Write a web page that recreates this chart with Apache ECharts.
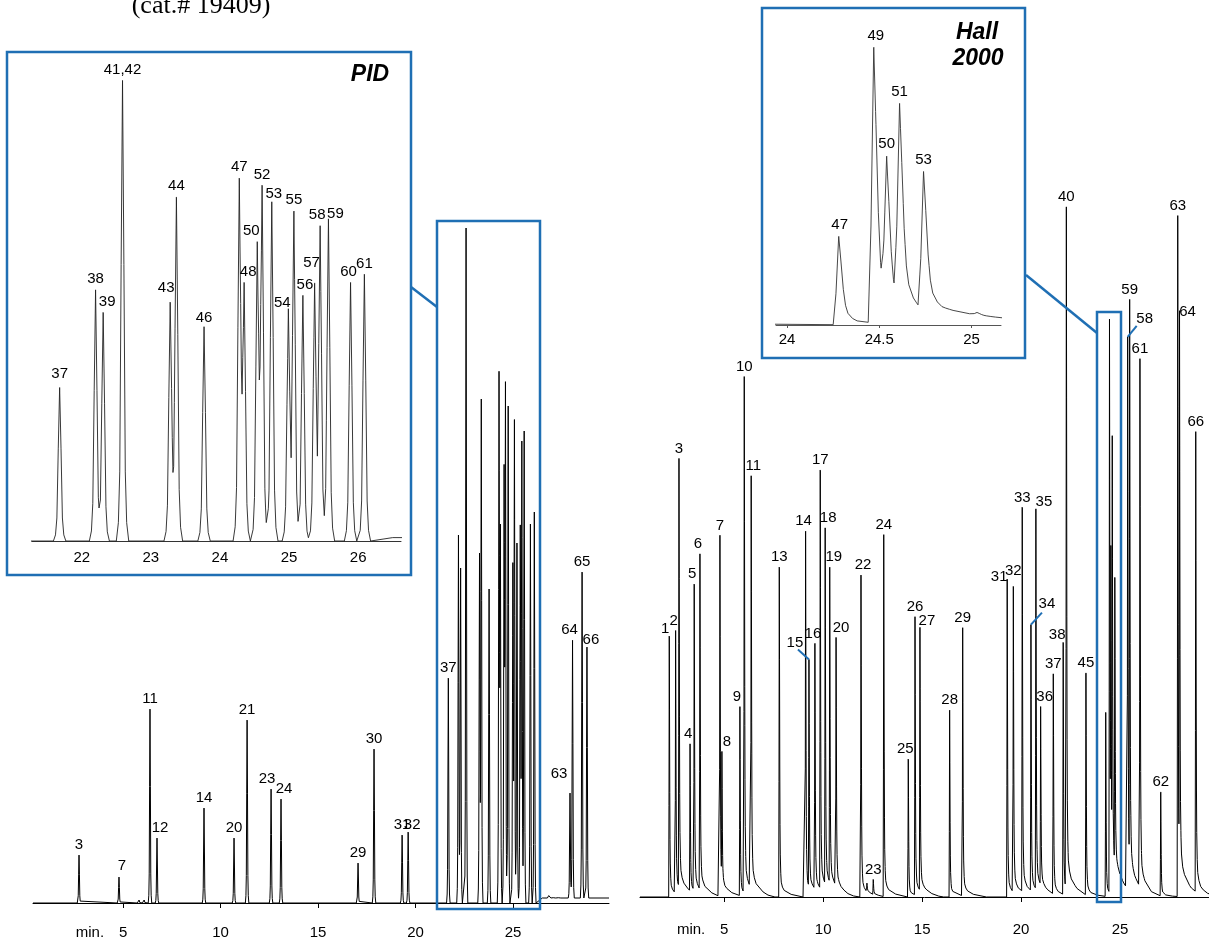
<!DOCTYPE html>
<html>
<head>
<meta charset="utf-8">
<script src="https://cdn.jsdelivr.net/npm/echarts@6/dist/echarts.min.js"></script>
<style>
  html, body { margin: 0; padding: 0; background: #fff; }
  #chart { width: 1209px; height: 944px; }
</style>
</head>
<body>
<div id="chart"></div>
<script>
// PID detector: peak number, retention time (min), peak height
const pidNames = ['3','7','','','11','12','14','20','21','23','24','29','30','31','32','37','38','39','41,42','43','44','46','47','48','50','52','53','54','55','56','57','58','59','60','61','','','','63','64','65','66'];
const pidTimes = [2.74,4.79,5.82,6.08,6.38,6.74,9.15,10.69,11.36,12.59,13.10,17.05,17.87,19.31,19.62,21.68,22.20,22.31,22.59,23.28,23.37,23.77,24.28,24.35,24.54,24.61,24.75,24.99,25.07,25.20,25.37,25.45,25.57,25.89,26.09,26.85,27.10,27.36,27.92,28.05,28.54,28.79];
const pidHeights = [48,26,3,3,194,65,95,65,183,114,104,40,154,68,71,225,368,335,675,350,504,314,522,365,425,510,497,334,479,360,372,457,472,379,391,4,2,2,105,258,326,251];
const pidBaseTimes = [0.38, 26.2, 26.5, 29.92];
const pidBaseLevels = [0, 0, 5, 5];

// Hall 2000 detector
const hallNames = ['1','2','3','4','5','6','7','8','9','10','11','13','14','15','16','17','18','19','20','22','','23','24','25','26','27','28','29','31','32','33','34','35','36','37','38','40','45','47','49','50','51','53','','58','59','61','62','63','64','66'];
const hallTimes = [2.22,2.54,2.71,3.27,3.48,3.77,4.78,4.88,5.79,6.01,6.36,7.78,9.11,9.28,9.58,9.85,10.10,10.33,10.65,11.91,12.21,12.53,13.06,14.30,14.64,14.89,16.39,17.05,19.30,19.61,20.06,20.50,20.75,20.99,21.63,22.13,22.29,23.28,24.28,24.47,24.54,24.61,24.74,25.03,25.39,25.49,26.01,27.06,27.92,28.01,28.83];
const hallHeights = [261,262,428,147,306,335,361,129,189,516,411,330,366,227,245,418,356,315,248,322,8,15,362,138,278,263,187,268,318,305,384,266,380,178,220,252,681,222,184,573,300,413,283,5,552,567,528,104,681,548,460];
const hallBaseTimes = [0.74, 29.5];
const hallBaseLevels = [0, 0];

// axis ticks
const mainTicks = [5, 10, 15, 20, 25];
const pidZoomTicks = [22, 23, 24, 25, 26];
const hallZoomTicks = [24, 24.5, 25];

// which peak numbers are written on which panel
const pidMainLabels = ['3','7','11','12','14','20','21','23','24','29','30','31','32','37','63','64','65','66'];
const pidZoomLabels = ['37','38','39','41,42','43','44','46','47','48','50','52','53','54','55','56','57','58','59','60','61'];
const hallZoomLabels = ['47','49','50','51','53'];
const hallMainLabels = hallNames.filter(n => n && !hallZoomLabels.includes(n));

// label nudges [dx, dy] in px
const pidMainOffsets = {'7':[3,-1],'12':[3,0],'23':[-4,0],'24':[3,0],'32':[4,3],'63':[-11,-9],'64':[-3,0],'66':[4,3]};
const pidZoomOffsets = {'37':[0,-3],'39':[4,0],'43':[-4,-3],'46':[0,2],'48':[4,0],'50':[-6,0],'53':[2,3],'54':[-6,5],'56':[2,0],'57':[-3,-9],'58':[-3,0],'59':[7,6],'60':[-2,0]};
const hallMainOffsets = {'1':[-4,3],'2':[-2,0],'4':[-2,0],'5':[-2,0],'6':[-2,0],'8':[5,0],'9':[-3,0],'11':[2,0],'14':[-2,0],'15':[-14,-7],'16':[-2,0],'18':[3,0],'19':[4,0],'20':[5,0],'22':[2,0],'25':[-3,0],'27':[7,3],'31':[-8,8],'32':[0,-6],'34':[16,-11],'35':[8,3],'36':[4,0],'38':[-6,2],'58':[17,-8],'64':[8,11]};
const hallZoomOffsets = {'47':[1,0],'49':[2,0]};
// blue leader lines on the Hall trace
const hallLeaders = {'15':[-11,-10],'34':[11,-12],'58':[9,-11]};

// peak outlines (time offset from apex, fraction of height)
const pidShape = [[-0.09,0],[-0.06,0.04],[-0.04,0.15],[-0.02,0.6],[0,1],[0.02,0.6],[0.04,0.15],[0.06,0.04],[0.09,0]];
const hallShape = [[-0.03,0],[-0.015,0.35],[0,1],[0.012,0.72],[0.025,0.4],[0.037,0.22],[0.05,0.13],[0.075,0.072],[0.1,0.045],[0.16,0.03],[0.25,0.02],[0.6,0.008],[1.2,0]];

const BLUE = '#1f6fb4';
const FONT = 'Liberation Sans, Arial, sans-serif';

function lerp(pts, x) {
  if (x <= pts[0][0]) return pts[0][1];
  if (x >= pts[pts.length - 1][0]) return pts[pts.length - 1][1];
  for (let i = 1; i < pts.length; i++) {
    if (x <= pts[i][0]) {
      const a = pts[i - 1], b = pts[i];
      return a[1] + (b[1] - a[1]) * (x - a[0]) / (b[0] - a[0]);
    }
  }
}

function makeTrace(times, heights, shape, baseT, baseL) {
  const base = baseT.map((t, i) => [t, baseL[i]]);
  const at = x => {
    let y = lerp(base, x);
    times.forEach((t, i) => {
      const dt = x - t;
      if (dt > shape[0][0] && dt < shape[shape.length - 1][0]) y += heights[i] * lerp(shape, dt);
    });
    return y;
  };
  const xs = baseT.slice();
  times.forEach(t => shape.forEach(s => xs.push(Math.round((t + s[0]) * 10000) / 10000)));
  const pts = [...new Set(xs)]
    .filter(x => x >= baseT[0] && x <= baseT[baseT.length - 1])
    .sort((a, b) => a - b)
    .map(x => [x, at(x)]);
  return { at, pts };
}

const pid = makeTrace(pidTimes, pidHeights, pidShape, pidBaseTimes, pidBaseLevels);
const hall = makeTrace(hallTimes, hallHeights, hallShape, hallBaseTimes, hallBaseLevels);

function labelItems(names, times, trace, keep, offsets) {
  const out = [];
  names.forEach((n, i) => {
    if (!keep.includes(n)) return;
    const item = { name: n, value: [times[i], trace.at(times[i])] };
    if (offsets[n]) item.label = { offset: offsets[n] };
    out.push(item);
  });
  return out;
}

function labelSeries(idx, data, dist) {
  return {
    type: 'scatter', xAxisIndex: idx, yAxisIndex: idx, data: data,
    symbol: 'circle', symbolSize: 0.5, itemStyle: { color: '#fff', opacity: 1 },
    silent: true, clip: false, z: 5,
    label: { show: true, position: 'top', distance: dist, formatter: p => p.name,
             fontSize: 15, color: '#000', opacity: 1, textBorderWidth: 0, fontFamily: FONT }
  };
}

function xAx(idx, min, max, ticks, margin, tickLen, lineColor) {
  return {
    type: 'value', gridIndex: idx, min: min, max: max,
    axisLine: { show: true, lineStyle: { color: lineColor, width: 1 } },
    axisTick: { show: tickLen > 0, customValues: ticks, length: tickLen, lineStyle: { color: lineColor } },
    axisLabel: { customValues: ticks, margin: margin, fontSize: 15, color: '#000', fontFamily: FONT },
    splitLine: { show: false }
  };
}

function yAx(idx, min, max) {
  return { type: 'value', gridIndex: idx, min: min, max: max, show: false, splitLine: { show: false } };
}

const chart = echarts.init(document.getElementById('chart'));

chart.setOption({
  animation: false,
  backgroundColor: '#fff',
  grid: [
    { left: 33, top: 190, width: 576, height: 723, outerBoundsMode: 'none' },   // PID full run
    { left: 32, top: 61, width: 369, height: 485, outerBoundsMode: 'none' },    // PID zoom
    { left: 640, top: 190, width: 569, height: 721, outerBoundsMode: 'none' },  // Hall full run
    { left: 776, top: 20, width: 225, height: 308, outerBoundsMode: 'none' }    // Hall zoom
  ],
  xAxis: [
    xAx(0, 0.38, 29.92, mainTicks, 12, 5, '#000'),
    xAx(1, 21.28, 26.62, pidZoomTicks, 4, 0, '#333'),
    xAx(2, 0.74, 29.5, mainTicks, 11, 5, '#000'),
    xAx(3, 23.94, 25.16, hallZoomTicks, 4, 3, '#555')
  ],
  yAxis: [
    yAx(0, -10, 713),
    yAx(1, -7.3, 703.2),
    yAx(2, -14, 707),
    yAx(3, -6.24, 634.4)
  ],
  series: [
    { type: 'line', xAxisIndex: 0, yAxisIndex: 0, data: pid.pts, showSymbol: false, clip: true,
      lineStyle: { color: '#000', width: 1 } },
    { type: 'line', xAxisIndex: 1, yAxisIndex: 1, data: pid.pts, showSymbol: false, clip: true,
      lineStyle: { color: '#222', width: 0.9 } },
    { type: 'line', xAxisIndex: 2, yAxisIndex: 2, data: hall.pts, showSymbol: false, clip: true,
      lineStyle: { color: '#000', width: 1 } },
    { type: 'line', xAxisIndex: 3, yAxisIndex: 3, data: hall.pts, showSymbol: false, clip: true,
      lineStyle: { color: '#333', width: 0.9 } },
    labelSeries(0, labelItems(pidNames, pidTimes, pid, pidMainLabels, pidMainOffsets), 2),
    labelSeries(1, labelItems(pidNames, pidTimes, pid, pidZoomLabels, pidZoomOffsets), 3),
    labelSeries(2, labelItems(hallNames, hallTimes, hall, hallMainLabels, hallMainOffsets), 2),
    labelSeries(3, labelItems(hallNames, hallTimes, hall, hallZoomLabels, hallZoomOffsets), 4)
  ]
});

// annotations: frames, connectors, titles, "min." and leader lines
const frame = (x, y, w, h) => ({ type: 'rect', shape: { x: x, y: y, width: w, height: h }, z: 100,
  style: { fill: 'none', stroke: BLUE, lineWidth: 2.5 } });
const seg = (x1, y1, x2, y2, w) => ({ type: 'line', shape: { x1: x1, y1: y1, x2: x2, y2: y2 }, z: 100,
  style: { stroke: BLUE, lineWidth: w } });
const txt = (s, x, y, size, extra) => ({ type: 'text', z: 100,
  style: Object.assign({ text: s, x: x, y: y, fontSize: size, fontFamily: FONT, fill: '#000',
    textAlign: 'center', textVerticalAlign: 'middle' }, extra || {}) });

const graphics = [
  txt('(cat.# 19409)', 201, 6, 26, { fontFamily: 'Liberation Serif, Times New Roman, serif' }),
  frame(7, 52, 404, 523),
  frame(762, 8, 263, 350),
  frame(437, 221, 103, 688),
  frame(1097, 312, 24, 590),
  seg(411, 287, 437, 307, 2.5),
  seg(1026, 275, 1097, 333, 2.5),
  txt('PID', 370, 75, 23, { fontWeight: 'bold', fontStyle: 'italic' }),
  txt('Hall', 977, 33, 23, { fontWeight: 'bold', fontStyle: 'italic' }),
  txt('2000', 978, 59, 23, { fontWeight: 'bold', fontStyle: 'italic' })
];

[[0, 933], [2, 930]].forEach(([g, y]) => {
  const x5 = chart.convertToPixel({ xAxisIndex: g }, 5);
  graphics.push(txt('min.', x5 - 19, y, 15, { textAlign: 'right' }));
});

Object.keys(hallLeaders).forEach(n => {
  const i = hallNames.indexOf(n);
  const p = chart.convertToPixel({ gridIndex: 2 }, [hallTimes[i], hall.at(hallTimes[i])]);
  const d = hallLeaders[n];
  graphics.push(seg(p[0], p[1], p[0] + d[0], p[1] + d[1], 2));
});

chart.setOption({ graphic: graphics });
</script>
</body>
</html>
